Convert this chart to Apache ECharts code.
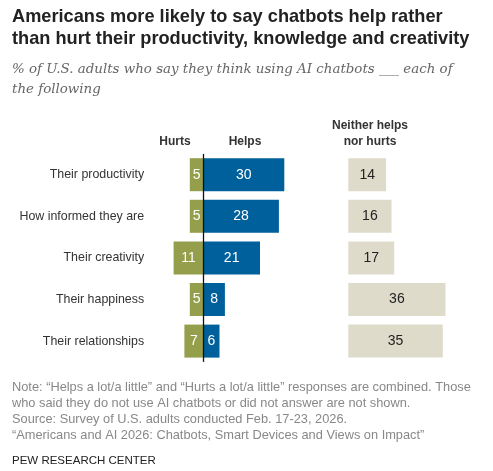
<!DOCTYPE html>
<html><head><meta charset="utf-8">
<script src="https://cdn.jsdelivr.net/npm/echarts@6/dist/echarts.min.js"></script>
<style>html,body{margin:0;padding:0;background:#fff}#c{width:493px;height:471px}</style>
</head><body><div id="c"></div>
<script>
const categories = ['Their productivity','How informed they are','Their creativity','Their happiness','Their relationships'];
const hurts = [5,5,11,5,7];
const helps = [30,28,21,8,6];
const neither = [14,16,17,36,35];

const chart = echarts.init(document.getElementById('c'));
const sans = 'Liberation Sans, Arial, sans-serif';
const gridTop = 153.9, gridH = 208;
function t(x,y,text,font,fill,align){return {type:'text',x:x,y:y,style:{text:text,font:font,fill:fill,textAlign:align||'left',textVerticalAlign:'middle'}};}
chart.setOption({
  animation:false,
  graphic:[
    t(12,17,'Americans more likely to say chatbots help rather','bold 18.2px '+sans,'#222'),
    t(12,39,'than hurt their productivity, knowledge and creativity','bold 18.2px '+sans,'#222'),
    t(12,70,'% of U.S. adults who say they think using AI chatbots ___ each of','italic 13.4px DejaVu Serif, serif','#666'),
    t(12,90,'the following','italic 13.4px DejaVu Serif, serif','#666'),
    t(175,142,'Hurts','bold 12px '+sans,'#333','center'),
    t(245,142,'Helps','bold 12px '+sans,'#333','center'),
    t(370,126,'Neither helps','bold 12px '+sans,'#333','center'),
    t(370,142,'nor hurts','bold 12px '+sans,'#333','center'),
    t(12,387,'Note: \u201cHelps a lot/a little\u201d and \u201cHurts a lot/a little\u201d responses are combined. Those','12.8px '+sans,'#888'),
    t(12,403,'who said they do not use AI chatbots or did not answer are not shown.','12.8px '+sans,'#888'),
    t(12,419,'Source: Survey of U.S. adults conducted Feb. 17-23, 2026.','12.8px '+sans,'#888'),
    t(12,435,'\u201cAmericans and AI 2026: Chatbots, Smart Devices and Views on Impact\u201d','12.8px '+sans,'#888'),
    t(12,461,'PEW RESEARCH CENTER','11.5px '+sans,'#222')
  ],
  grid:[
    {left:160.1,top:gridTop,width:129.6,height:gridH},
    {left:348.3,top:gridTop,width:108,height:gridH}
  ],
  xAxis:[
    {gridIndex:0,type:'value',min:-16,max:32,show:false},
    {gridIndex:1,type:'value',min:0,max:40,show:false}
  ],
  yAxis:[
    {gridIndex:0,type:'category',data:categories,inverse:true,axisLine:{show:false},axisTick:{show:false},
     axisLabel:{margin:16,fontFamily:sans,fontSize:12.4,color:'#333'}},
    {gridIndex:1,type:'category',data:categories,inverse:true,show:false}
  ],
  series:[
    {type:'bar',xAxisIndex:0,yAxisIndex:0,data:hurts.map(v=>-v),barWidth:33,barGap:'-100%',
     itemStyle:{color:'#959e4a'},
     label:{show:true,position:'inside',formatter:p=>Math.abs(p.value),color:'#fff',fontFamily:sans,fontSize:14}},
    {type:'bar',xAxisIndex:0,yAxisIndex:0,data:helps,barWidth:33,barGap:'-100%',
     itemStyle:{color:'#00609b'},
     label:{show:true,position:'inside',color:'#fff',fontFamily:sans,fontSize:14},
     markLine:{silent:true,symbol:'none',label:{show:false},lineStyle:{color:'#111',width:1.3,type:'solid'},data:[{xAxis:0}]}},
    {type:'bar',xAxisIndex:1,yAxisIndex:1,data:neither,barWidth:33,
     itemStyle:{color:'#dedbca'},
     label:{show:true,position:'inside',color:'#222',fontFamily:sans,fontSize:14}}
  ]
});
</script></body></html>
